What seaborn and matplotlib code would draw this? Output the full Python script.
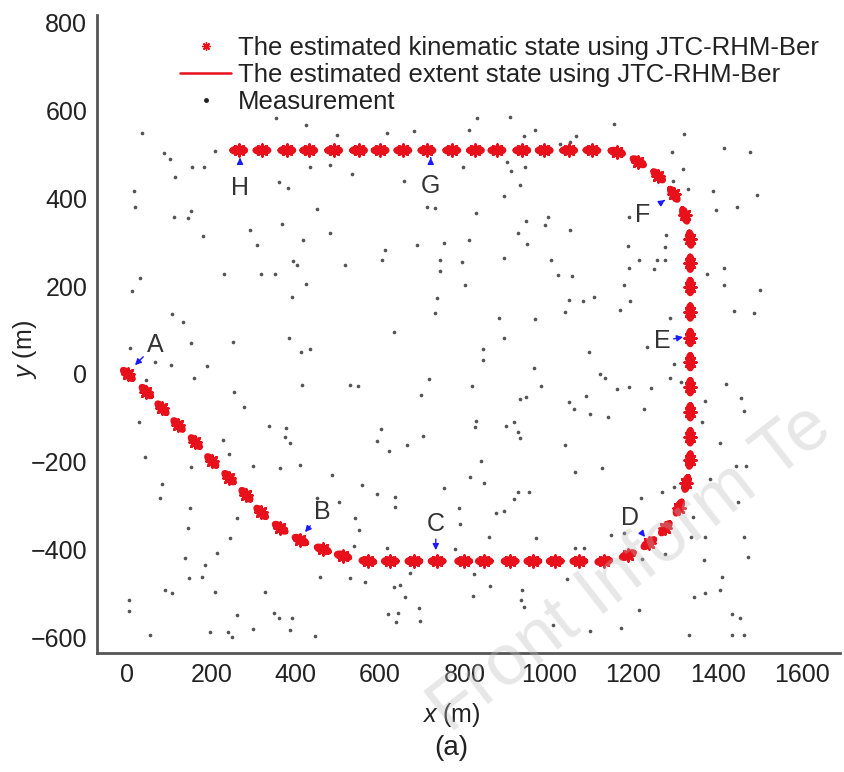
import numpy as np
import pandas as pd
import matplotlib
matplotlib.use("Agg")
import matplotlib.pyplot as plt
import seaborn as sns
from matplotlib.lines import Line2D

# estimated kinematic state (track centres)
track_x = [2, 46, 83, 121, 162, 201, 242, 282, 318, 363, 411, 464, 512, 571, 624,
           680, 735, 798, 847, 908, 962, 1015, 1071, 1130, 1187, 1237, 1276, 1308,
           1326, 1334, 1335, 1335, 1335, 1335, 1335, 1335, 1335, 1335, 1335, 1322,
           1296, 1259, 1212, 1161, 1102, 1047, 989, 936, 877, 826, 770, 711, 654,
           600, 549, 490, 431, 379, 320, 265]
track_y = [-1, -40, -78, -116, -155, -198, -236, -275, -315, -350, -378, -399, -414,
           -426, -426, -426, -426, -426, -426, -426, -426, -426, -426, -426, -412,
           -385, -351, -304, -249, -196, -143, -86, -29, 28, 83, 141, 199, 252, 307,
           361, 409, 451, 483, 505, 509, 509, 509, 509, 509, 509, 509, 509, 509, 509,
           509, 509, 509, 509, 509, 509]

# clutter + target measurements
meas_x = [36, 87, 103, 154, 182, 115, 209, 16, 20, 111, 144, 152, 180, 292, 308, 360,
          381, 367, 417, 450, 482, 498, 425, 354, 434, 482, 229, 318, 352, 393, 403,
          425, 391, 32, 12, 107, 133, 517,
          830, 907, 810, 968, 940, 1065, 1027, 1049, 616, 680, 533, 656, 796, 901, 910,
          944, 932, 893, 828, 711, 731, 946, 999, 991, 926, 1049, 948, 810, 751, 687,
          612, 604, 743, 794, 893, 1005, 743, 802, 1021, 1055, 735, 731, 1047, 1082,
          1106, 1039, 881, 968, 632,
          1155, 1321, 1416, 1476, 1292, 1318, 1294, 1329, 1389, 1493, 1397, 1446, 1189,
          1278, 1276, 1187, 1213, 1256, 1276, 1191, 1250, 1375, 1416, 1416, 1501, 1179,
          1193, 1168, 1439, 1485, 1286,
          8, 152, 251, 383, 412, 434, 67, 104, 190, 158, 46, 253, 415, 277, 28, 336,
          378, 375, 386, 228, 43, 241, 152, 299, 362, 411, 486, 83, 79, 450, 502, 261,
          149, 144, 245, 213, 138, 186, 146, 178, 91, 107, 6, 6, 209, 326, 262, 348,
          360, 391, 55, 197, 239, 249, 299, 386, 446, 458,
          894, 844, 844, 1094, 964, 529, 547, 717, 697, 818, 981, 932, 946, 1047, 1059,
          1089, 1097, 602, 592, 620, 664, 702, 828, 826, 899, 918, 926, 932, 1039, 840,
          1063, 812, 847, 751, 557, 592, 636, 636, 786, 917, 928, 952, 875, 893, 541,
          551, 790, 857, 970, 539, 616, 778, 1063, 1084, 529, 565, 671, 632, 648, 660,
          823, 860, 820, 936, 934, 940, 1043, 618, 642, 638, 691, 695, 1010, 1097,
          1232, 1122, 1134, 1161, 1191, 1242, 1288, 1296, 1313, 1225, 1139, 1420, 1455,
          1463, 1371, 1363, 1406, 1126, 1444, 1468, 1383, 1297, 1268, 1218, 1448, 1342,
          1147, 1177, 1337, 1371, 1463, 1276, 1221, 1367, 1471, 1410, 1343, 1371, 1406,
          1213, 1171, 1434, 1454, 1331, 1434, 1463]
meas_y = [548, 502, 489, 472, 470, 449, 508, 417, 381, 358, 354, 371, 315, 328, 294,
          438, 424, 341, 305, 376, 320, 544, 567, 583, 470, 476, 227, 227, 227, 257,
          247, 204, 176, 218, 189, 136, 119, 247,
          582, 586, 555, 555, 542, 542, 523, 529, 548, 552, 455, 439, 472, 483, 461,
          472, 430, 404, 366, 381, 377, 348, 358, 338, 322, 328, 295, 305, 297, 294,
          282, 260, 260, 254, 263, 260, 234, 203, 225, 222, 174, 138, 168, 165, 176,
          142, 127, 125, 96,
          568, 546, 514, 505, 505, 467, 439, 421, 417, 407, 373, 379, 358, 316, 290,
          292, 260, 260, 260, 242, 239, 227, 242, 203, 191, 203, 166, 146, 143, 138,
          128,
          60, 70, 72, 83, 51, 57, 27, 20, 19, -8, -14, -42, -25, -74, -110, -118,
          -124, -143, -158, -150, -190, -181, -211, -209, -215, -207, -231, -251, -283,
          -283, -291, -328, -306, -351, -374, -408, -418, -435, -465, -461, -492,
          -499, -514, -539, -497, -497, -549, -545, -555, -556, -593, -588, -588,
          -598, -580, -583, -596, -461,
          83, 57, 32, 51, 14, -25, -27, -11, -48, -27, -27, -57, -52, -63, -80, -49,
          -90, -125, -153, -175, -162, -140, -107, -120, -118, -109, -131, -146, -162,
          -198, -224, -234, -247, -259, -253, -274, -281, -302, -304, -285, -268, -269,
          -317, -312, -328, -355, -342, -370, -373, -391, -397, -398, -397, -395, -465,
          -473, -454, -484, -480, -507, -456, -482, -505, -492, -514, -530, -467, -547,
          -545, -565, -532, -562, -571, -585,
          62, -1, -8, -34, -29, -33, -8, 22, -18, -80, -97, -23, -55, -84, -61, -110,
          -158, -215, -209, -209, -239, -257, -268, -282, -291, -325, -366, -363, -370,
          -370, -370, -410, -421, -423, -416, -461, -507, -499, -492, -537, -578, -547,
          -556, -593, -593, -593]

# point labels: letter, text position, arrow target
label_names = ["A", "B", "C", "D", "E", "F", "G", "H"]
label_tx = [66, 462, 732, 1192, 1268, 1223, 720, 268]
label_ty = [66, -314, -341, -328, 75, 362, 428, 423]
label_px = [19, 422, 732, 1228, 1318, 1275, 720, 268]
label_py = [20, -360, -401, -371, 84, 396, 492, 492]

x_ticks = [0, 200, 400, 600, 800, 1000, 1200, 1400, 1600]
y_ticks = [-600, -400, -200, 0, 200, 400, 600, 800]

sns.set_style("white")
plt.rcParams["font.family"] = ["Liberation Sans", "DejaVu Sans"]
plt.rcParams["mathtext.fontset"] = "custom"
plt.rcParams["mathtext.rm"] = "Liberation Sans"
plt.rcParams["mathtext.it"] = "Liberation Sans:italic"

fig = plt.figure(figsize=(8.44, 7.72), dpi=100)
ax = fig.add_axes([97 / 844, 119 / 772, 743 / 844, 638 / 772])

meas = pd.DataFrame({"x": meas_x, "y": meas_y})
sns.scatterplot(data=meas, x="x", y="y", color="#555555", s=7, linewidth=0,
                ax=ax, zorder=2, legend=False)

# extent ellipses oriented along heading
tx = np.array(track_x, float)
ty = np.array(track_y, float)
hdg = np.arctan2(np.gradient(ty), np.gradient(tx))
t = np.linspace(0, 2 * np.pi, 40)
rows = []
for i in range(len(tx)):
    ex = 17 * np.cos(t)
    ey = 6 * np.sin(t)
    c, s = np.cos(hdg[i]), np.sin(hdg[i])
    for a, b in zip(ex * c - ey * s + tx[i], ex * s + ey * c + ty[i]):
        rows.append((i, a, b))
ell = pd.DataFrame(rows, columns=["id", "x", "y"])
sns.lineplot(data=ell, x="x", y="y", units="id", estimator=None, sort=False,
             color="#e8101a", linewidth=3.2, ax=ax, zorder=3)

trk = pd.DataFrame({"x": track_x, "y": track_y})
sns.scatterplot(data=trk, x="x", y="y", marker=(8, 2, 0), color="#e8101a", s=70,
                linewidth=2, edgecolor="#e8101a", ax=ax, zorder=4, legend=False)

for n, txx, tyy, pxx, pyy in zip(label_names, label_tx, label_ty, label_px, label_py):
    ax.annotate(n, xy=(pxx, pyy), xytext=(txx, tyy), fontsize=18, color="#333333",
                ha="center", va="center",
                arrowprops=dict(arrowstyle="-|>", color="#1a1aff", lw=1,
                                mutation_scale=9, shrinkA=9, shrinkB=0))

ax.set_xlim(-71, 1690)
ax.set_ylim(-635, 817)
ax.set_xticks(x_ticks)
ax.set_yticks(y_ticks)
ax.tick_params(direction="in", length=4, width=1, color="#555555",
               labelsize=18, labelcolor="#222222", pad=7)
for side in ["top", "right"]:
    ax.spines[side].set_visible(False)
for side in ["left", "bottom"]:
    ax.spines[side].set_color("#555555")
    ax.spines[side].set_linewidth(2)

ax.set_xlabel("$\\mathit{x}$ (m)", fontsize=18, color="#222222")
ax.set_ylabel("$\\mathit{y}$ (m)", fontsize=18, color="#222222")
ax.xaxis.set_label_coords((451 - 97) / 743, (653 - 715) / 638)
ax.xaxis.label.set_va("center")
ax.yaxis.set_label_coords((25 - 97) / 743, (653 - 350) / 638)
ax.yaxis.label.set_va("center")

handles = [
    Line2D([], [], marker=(8, 2, 0), color="#e8101a", linestyle="none", markersize=6),
    Line2D([], [], color="#e8101a", linewidth=1.8),
    Line2D([], [], marker="o", color="#222222", linestyle="none", markersize=2.5),
]
labels = ["The estimated kinematic state using JTC-RHM-Ber",
          "The estimated extent state using JTC-RHM-Ber",
          "Measurement"]
ax.legend(handles, labels, loc="upper left", bbox_to_anchor=(0.084, 1.0),
          frameon=False, fontsize=18.5, handlelength=2.0, handletextpad=0.25,
          labelspacing=0.12, labelcolor="#222222", borderpad=0.3)

fig.text(451 / 844, 1 - 748 / 772, "(a)", fontsize=20, color="#222222",
         ha="center", va="center")
fig.text(0.495, 0.035, "Front Inform Te", rotation=38,
         fontsize=52, color="#bbbbbb", alpha=0.35, ha="left", va="bottom")

fig.savefig("out.png", dpi=100)
